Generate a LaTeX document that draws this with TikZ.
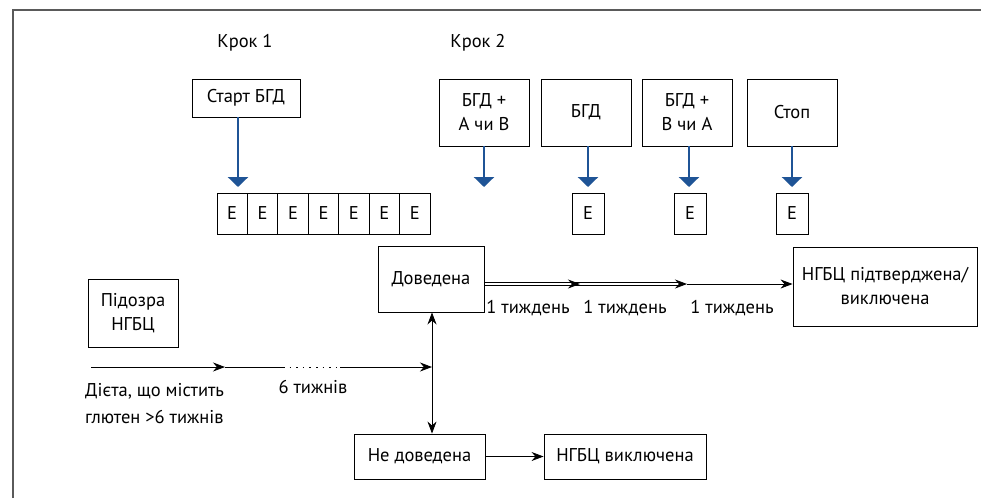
\documentclass[tikz,border=0pt]{standalone}
\usepackage{fontspec}
\setmainfont{PT Sans}
\usetikzlibrary{arrows.meta}
\definecolor{arrblue}{RGB}{31,84,150}
\definecolor{framegray}{RGB}{90,90,90}
\begin{document}
\begin{tikzpicture}[x=1pt,y=-1pt,
  every node/.style={font=\fontsize{18.5}{24}\selectfont, inner sep=0pt},
  box/.style={draw, line width=0.9pt, align=center},
  ecell/.style={draw, line width=0.9pt, minimum width=30.4pt, minimum height=41pt},
  bluearr/.style={draw=arrblue, line width=2.6pt, -{Triangle[width=20pt,length=10pt]}},
  blk/.style={line width=0.8pt},
  blkarr/.style={line width=0.8pt, -{Stealth[length=12pt,width=9pt]}},
  lbl/.style={align=center}
]
\useasboundingbox (0,0) rectangle (981,498);
% frame
\draw[framegray, line width=1.6pt] (13,498) -- (13,10) -- (981,10);

% step titles
\node (k1) at (245,43) {Крок 1};
\node (k2) at (478,43) {Крок 2};

% top boxes
\node[box, minimum width=108pt, minimum height=38pt] (start) at (246,98) {Старт БГД};
\node[box, minimum width=90pt, minimum height=67pt] (b1) at (484,112.5) {БГД +\\А чи В};
\node[box, minimum width=90pt, minimum height=67pt] (b2) at (586,112.5) {БГД};
\node[box, minimum width=90pt, minimum height=67pt] (b3) at (687,112.5) {БГД +\\В чи А};
\node[box, minimum width=90pt, minimum height=67pt] (stop) at (792,112.5) {Стоп};

% E row
\foreach \i in {0,...,6} {
  \node[ecell] (e\i) at ({217+15.2+30.43*\i},213.5) {E};
}
\node[ecell, minimum width=32pt] (f2) at (588,213.5) {E};
\node[ecell, minimum width=32pt] (f3) at (690,213.5) {E};
\node[ecell, minimum width=32pt] (f4) at (792,213.5) {E};

% blue arrows
\coordinate (sa) at (238,187);
\coordinate (a1) at (484,187);
\draw[bluearr] (start.south -| sa) -- (sa);
\draw[bluearr] (b1.south) -- (a1);
\draw[bluearr] (b2.south -| f2) -- (f2.north |- a1);
\draw[bluearr] ([xshift=2pt]b3.south) -- ([xshift=-1pt]f3.north |- a1);
\draw[bluearr] (stop.south) -- (f4.north |- a1);

% lower boxes
\node[box, minimum width=106pt, minimum height=66pt] (dov) at (431,279) {Доведена};
\node[box, minimum width=90pt, minimum height=68pt] (pid) at (133,313) {Підозра\\НГБЦ};
\node[box, minimum width=131pt, minimum height=45pt] (ndov) at (419.5,456.5) {Не доведена};
\node[box, minimum width=162pt, minimum height=45pt] (excl) at (625,456.5) {НГБЦ виключена};
\node[box, minimum width=184pt, minimum height=79pt] (conf) at (885,286.5) {НГБЦ підтверджена/\\виключена};

% main timeline
\coordinate (t0) at (91,367);
\coordinate (t1) at (225,367);
\coordinate (t2) at (283,367);
\coordinate (t3) at (340,367);
\coordinate (j) at (432,367);
\draw[blkarr] (t0) -- (t1);
\draw[blk] (t1) -- (t2);
\draw[blk, dash pattern=on 1.6pt off 5pt] (t2) -- (t3);
\draw[blkarr] (t3) -- (j);
\node (six) at (313,387) {6 тижнів};
\node[align=left, anchor=north west, font=\fontsize{18.5}{27}\selectfont] (diet) at (85,383) {Дієта, що містить\\глютен >6 тижнів};

% vertical double arrow
\draw[blkarr] (j) -- (dov.south -| j);
\draw[blkarr] (j) -- (ndov.north -| j);

% Не доведена -> НГБЦ виключена
\draw[blkarr] (ndov.east |- excl) -- (excl.west);

% weekly arrows
\coordinate (w1) at (580,284);
\coordinate (w2) at (687,284);
\draw[blk, line width=0.7pt] ([yshift=-1.6pt]dov.east |- w1) -- ([yshift=-1.6pt,xshift=-6pt]w2);
\draw[blk, line width=0.7pt] ([yshift=1.6pt]dov.east |- w1) -- ([yshift=1.6pt,xshift=-6pt]w2);
\draw[blkarr] ([xshift=-8pt]w1) -- (w1);
\draw[blkarr] ([xshift=-8pt]w2) -- (w2);
\draw[blkarr] (w2) -- (conf.west |- w2);
\node (l1) at (528,308) {1 тиждень};
\node (l2) at (625,308) {1 тиждень};
\node (l3) at (732,308) {1 тиждень};
\end{tikzpicture}
\end{document}
